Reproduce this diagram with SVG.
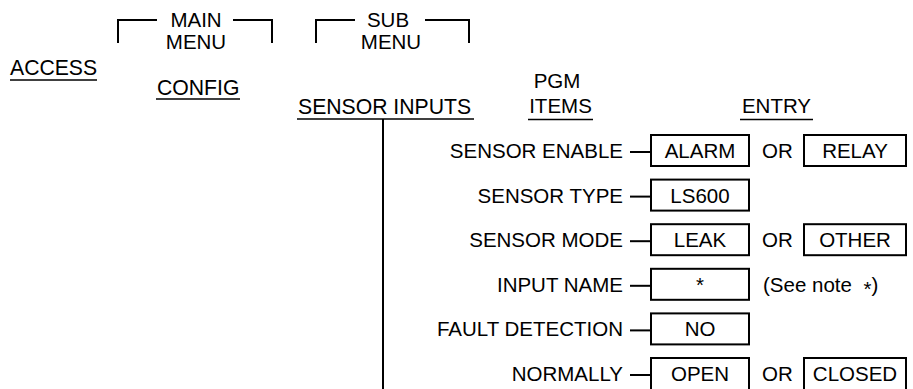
<svg xmlns="http://www.w3.org/2000/svg" width="913" height="389" viewBox="0 0 913 389">
<style>
text{font-family:"Liberation Sans",Arial,Helvetica,sans-serif;font-size:20.5px;fill:#000}
.h{font-size:21.2px}
.m{text-anchor:middle}
.e{text-anchor:end}
.ln{stroke:#000;stroke-width:2;fill:none}
.ul{stroke:#000;stroke-width:1.6}
.bx{fill:#fff;stroke:#000;stroke-width:2}
</style>
<rect width="913" height="389" fill="#fff"/>
<g id="headers">
<path class="ln" d="M118,43 V20 H157 M233,20 H272 V43"/>
<text class="m" x="196" y="27">MAIN</text>
<text class="m" x="196" y="49">MENU</text>
<path class="ln" d="M316,43 V20 H355 M425,20 H469 V43"/>
<text class="m" x="388" y="27">SUB</text>
<text class="m" x="391" y="49">MENU</text>
<text class="m" x="557" y="88">PGM</text>
<text class="m" x="560.5" y="113">ITEMS</text>
<line class="ul" x1="528" y1="119.5" x2="593" y2="119.5"/>
<text class="m" x="776.5" y="113">ENTRY</text>
<line class="ul" x1="740" y1="119.5" x2="813" y2="119.5"/>
</g>
<g id="access">
<text class="h" x="10" y="75">ACCESS</text>
<line class="ul" x1="10" y1="80" x2="97" y2="80"/>
</g>
<g id="config">
<text class="h" x="157" y="95">CONFIG</text>
<line class="ul" x1="156" y1="99" x2="240" y2="99"/>
</g>
<g id="sensor-inputs">
<text class="h" x="298" y="114">SENSOR INPUTS</text>
<line class="ul" x1="297" y1="119" x2="474" y2="119"/>
</g>
<g id="connectors">
<line class="ln" x1="383" y1="119" x2="383" y2="392"/>
<line class="ln" x1="630" y1="152" x2="651" y2="152"/>
<line class="ln" x1="630" y1="196.6" x2="651" y2="196.6"/>
<line class="ln" x1="630" y1="241.2" x2="651" y2="241.2"/>
<line class="ln" x1="630" y1="285.8" x2="651" y2="285.8"/>
<line class="ln" x1="630" y1="330.4" x2="651" y2="330.4"/>
<line class="ln" x1="630" y1="375" x2="651" y2="375"/>
</g>
<g id="sensor-enable">
<text class="e" x="623" y="158">SENSOR ENABLE</text>
<rect class="bx" x="651" y="135" width="98" height="31"/>
<text class="m" x="700" y="158">ALARM</text>
<text x="762" y="158">OR</text>
<rect class="bx" x="804" y="135" width="102" height="31"/>
<text class="m" x="855" y="158">RELAY</text>
</g>
<g id="sensor-type">
<text class="e" x="623" y="202.6">SENSOR TYPE</text>
<rect class="bx" x="651" y="179.6" width="98" height="31"/>
<text class="m" x="700" y="202.6">LS600</text>
</g>
<g id="sensor-mode">
<text class="e" x="623" y="247.2">SENSOR MODE</text>
<rect class="bx" x="651" y="224.2" width="98" height="31"/>
<text class="m" x="700" y="247.2">LEAK</text>
<text x="762" y="247.2">OR</text>
<rect class="bx" x="804" y="224.2" width="102" height="31"/>
<text class="m" x="855" y="247.2">OTHER</text>
</g>
<g id="input-name">
<text class="e" x="623" y="291.8">INPUT NAME</text>
<rect class="bx" x="651" y="268.8" width="98" height="31"/>
<text class="m" x="700" y="291.8">*</text>
<text x="763" y="291.8">(See note <tspan dx="6" dy="4">*</tspan><tspan dy="-4">)</tspan></text>
</g>
<g id="fault-detection">
<text class="e" x="623" y="336.4">FAULT DETECTION</text>
<rect class="bx" x="651" y="313.4" width="98" height="31"/>
<text class="m" x="700" y="336.4">NO</text>
</g>
<g id="normally">
<text class="e" x="623" y="381">NORMALLY</text>
<rect class="bx" x="651" y="358" width="98" height="34"/>
<text class="m" x="700" y="381">OPEN</text>
<text x="762" y="381">OR</text>
<rect class="bx" x="804" y="358" width="102" height="34"/>
<text class="m" x="855" y="381">CLOSED</text>
</g>
</svg>
